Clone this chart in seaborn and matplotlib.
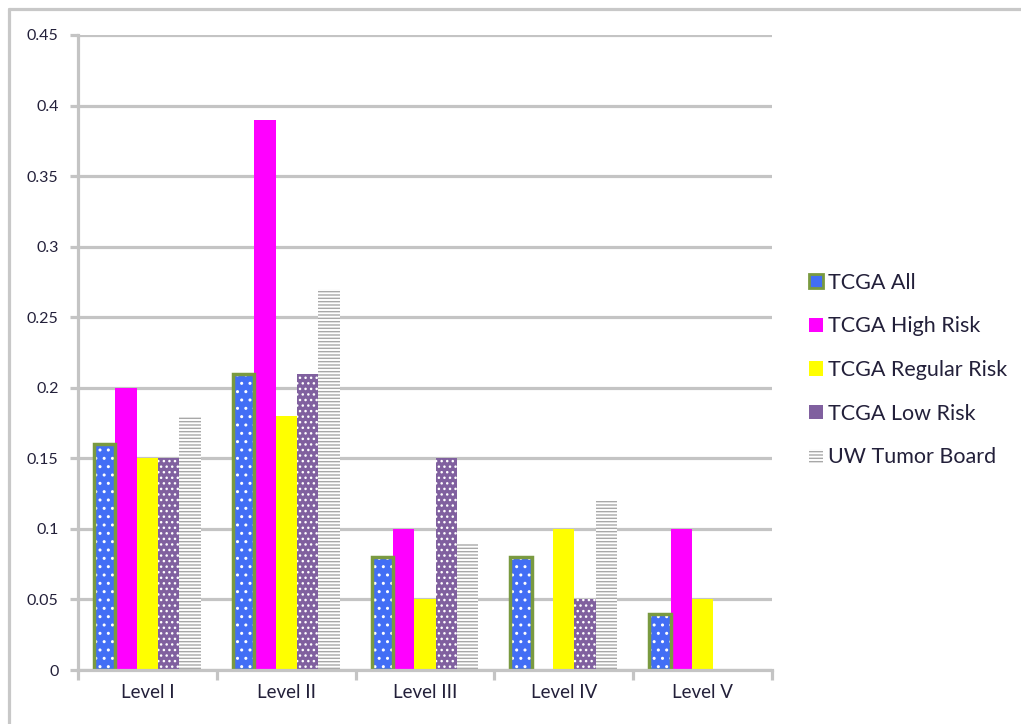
import matplotlib
matplotlib.use("Agg")
import matplotlib.pyplot as plt
import seaborn as sns
import pandas as pd
from matplotlib.patches import Rectangle, Patch
from matplotlib.lines import Line2D

levels = ["Level I", "Level II", "Level III", "Level IV", "Level V"]
series = ["TCGA All", "TCGA High Risk", "TCGA Regular Risk", "TCGA Low Risk", "UW Tumor Board"]
tcga_all = [0.16, 0.21, 0.08, 0.08, 0.04]
tcga_high = [0.20, 0.39, 0.10, 0.0, 0.10]
tcga_regular = [0.15, 0.18, 0.05, 0.10, 0.05]
tcga_low = [0.15, 0.21, 0.15, 0.05, 0.0]
uw_board = [0.18, 0.27, 0.09, 0.12, 0.0]
y_ticks = [0, 0.05, 0.1, 0.15, 0.2, 0.25, 0.3, 0.35, 0.4, 0.45]
y_tick_labels = ["0", "0.05", "0.1", "0.15", "0.2", "0.25", "0.3", "0.35", "0.4", "0.45"]

face_colors = ["#426EF5", "#FF00FF", "#FFFF00", "#80609F", "#FFFFFF"]
edge_green = "#7A9A40"
grid_gray = "#C4C4C4"
text_color = "#23203A"

rows = []
for name, vals in zip(series, [tcga_all, tcga_high, tcga_regular, tcga_low, uw_board]):
    for lvl, v in zip(levels, vals):
        rows.append({"Level": lvl, "Series": name, "Value": v})
df = pd.DataFrame(rows)

sns.set_theme(style="white")
plt.rcParams["font.family"] = ["Lato", "DejaVu Sans"]
plt.rcParams["hatch.linewidth"] = 1.0

fig = plt.figure(figsize=(10.21, 7.24), dpi=100)
ax = fig.add_axes([78 / 1021, 54 / 724, 694 / 1021, 635 / 724])

sns.barplot(data=df, x="Level", y="Value", hue="Series", hue_order=series,
            order=levels, palette=face_colors, width=0.77, saturation=1,
            legend=False, ax=ax)

# per-series fills and patterns
for i, cont in enumerate(ax.containers):
    for bar in cont:
        bar.set_linewidth(0)
        if i == 4:
            bar.set_facecolor("white")
            bar.set_edgecolor("#A8A8A8")
            bar.set_hatch("-----")
        if bar.get_height() <= 0:
            bar.set_visible(False)
            continue
        if i in (0, 3):
            pattern = ".." if i == 0 else "..."
            ax.add_patch(Rectangle(bar.get_xy(), bar.get_width(), bar.get_height(),
                                   facecolor="none", edgecolor="white", linewidth=0,
                                   hatch=pattern, zorder=bar.get_zorder() + 0.1))
        if i == 0:
            # green outline drawn above the dot pattern
            ax.add_patch(Rectangle(bar.get_xy(), bar.get_width(), bar.get_height(),
                                   facecolor="none", edgecolor=edge_green,
                                   linewidth=2.5, zorder=bar.get_zorder() + 0.2))

ax.set_ylim(0, 0.45)
ax.set_xlim(-0.5, len(levels) - 0.5)
ax.set_yticks(y_ticks)
ax.set_yticklabels(y_tick_labels)
ax.yaxis.grid(True, color=grid_gray, linewidth=2.3)
ax.set_axisbelow(True)
ax.set_xlabel("")
ax.set_ylabel("")

for side in ("top", "right"):
    ax.spines[side].set_visible(False)
for side in ("left", "bottom"):
    ax.spines[side].set_color(grid_gray)
    ax.spines[side].set_linewidth(2.3)

ax.tick_params(axis="y", length=6, width=2.3, color=grid_gray, labelsize=11.5,
               labelcolor=text_color, pad=8, left=True)
ax.tick_params(axis="x", length=0, labelsize=13.5, labelcolor=text_color, pad=10)
# category boundary tick marks
ax.set_xticks([k + 0.5 for k in range(-1, len(levels))], minor=True)
ax.tick_params(axis="x", which="minor", length=7, width=2.3, color=grid_gray, bottom=True)

handles = [
    Patch(facecolor=face_colors[0], edgecolor=edge_green, linewidth=2),
    Patch(facecolor=face_colors[1], linewidth=0),
    Patch(facecolor=face_colors[2], linewidth=0),
    Patch(facecolor=face_colors[3], linewidth=0),
    Patch(facecolor="white", edgecolor="#A8A8A8", hatch="-----", linewidth=0),
]
leg = fig.legend(handles, series, loc="center left", bbox_to_anchor=(0.773, 0.489),
                 frameon=False, fontsize=15.5, handlelength=0.65, handleheight=0.65,
                 handletextpad=0.25, labelspacing=1.1)
for t in leg.get_texts():
    t.set_color(text_color)

# outer frame
fig.add_artist(Line2D([9 / 1021, 9 / 1021], [0, 1 - 9 / 724], color="#C8C8C8",
                      linewidth=2.3, transform=fig.transFigure))
fig.add_artist(Line2D([9 / 1021, 1], [1 - 9 / 724, 1 - 9 / 724], color="#C8C8C8",
                      linewidth=2.3, transform=fig.transFigure))

fig.savefig("out.png", dpi=100, facecolor="white")
